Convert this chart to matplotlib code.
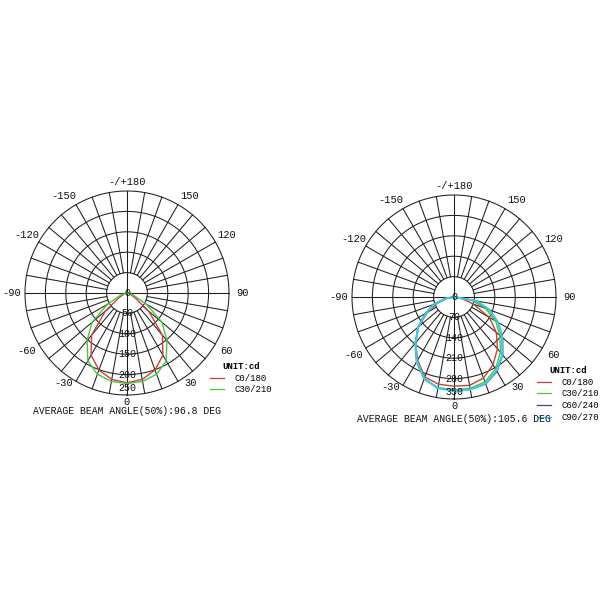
"""
Photometric polar diagrams (luminous intensity distribution) for two luminaires.
"""

import numpy as np
import matplotlib
matplotlib.use("Agg")
import matplotlib.pyplot as plt

plt.rcParams['font.family'] = ['Liberation Mono', 'DejaVu Sans Mono']

# gamma angles in degrees, 0 = straight down, positive toward the "30 / 60 / 90" side
angles = [-90, -80, -70, -60, -50, -40, -30, -20, -10, 0, 10, 20, 30, 40, 50, 60, 70, 80, 90]

# left luminaire, intensity in cd
left_c0_180 = [0, 3, 8, 22, 70, 135, 176, 201, 215, 220, 215, 201, 176, 135, 70, 22, 8, 3, 0]
left_c30_210 = [0, 5, 18, 55, 112, 152, 192, 212, 220, 222, 220, 212, 192, 152, 112, 55, 18, 5, 0]

# right luminaire, intensity in cd
right_c0_180 = [0, 22, 60, 105, 160, 205, 250, 292, 304, 306, 308, 296, 268, 232, 190, 140, 70, 25, 0]
right_c30_210 = [0, 32, 75, 115, 162, 208, 258, 300, 316, 318, 318, 310, 285, 248, 205, 165, 115, 60, 0]
right_c60_240 = [0, 30, 70, 112, 160, 205, 255, 298, 318, 320, 322, 318, 295, 260, 218, 175, 128, 75, 0]
right_c90_270 = [0, 30, 72, 110, 160, 205, 255, 298, 318, 322, 322, 316, 292, 258, 215, 175, 130, 80, 0]

left_rings = [50, 100, 150, 200, 250]
right_rings = [70, 140, 210, 280, 350]

angle_ticks = [0, 30, 60, 90, 120, 150, 180, -150, -120, -90, -60, -30]
angle_labels = ['0', '30', '60', '90', '120', '150', '-/+180', '-150', '-120', '-90', '-60', '-30']

left_title = "AVERAGE BEAM ANGLE(50%):96.8 DEG"
right_title = "AVERAGE BEAM ANGLE(50%):105.6 DEG"

GRID = '#1e1e1e'


def label_spot(a):
    """Where an angle label sits: (angle deg, radius as fraction of outer ring)."""
    if a == 0:
        return 0, 1.07
    if abs(a) == 30:
        return np.sign(a) * 35, 1.08
    if abs(a) == 180:
        return 180, 1.09
    if abs(a) == 150:
        return np.sign(a) * 147, 1.13
    return a, 1.13


def draw_diagram(ax, rings, series, title, title_y, legend_xy):
    rmax = rings[-1]
    ax.set_theta_zero_location('S')
    ax.set_theta_direction(1)
    ax.set_ylim(0, rmax)
    ax.axis('off')

    # rings
    th = np.linspace(0, 2 * np.pi, 721)
    for r in rings:
        ax.plot(th, np.full_like(th, r), color=GRID, lw=0.75, clip_on=False)

    # spokes every 10 deg, main axes go through the centre
    for a in range(0, 360, 10):
        r0 = 0 if a % 90 == 0 else rings[0]
        ax.plot([np.radians(a)] * 2, [r0, rmax], color=GRID, lw=0.75, clip_on=False)

    # angle labels
    for a, lab in zip(angle_ticks, angle_labels):
        pa, pr = label_spot(a)
        ax.text(np.radians(pa), pr * rmax, lab, ha='center', va='center',
                fontsize=7.5, color='#111111', clip_on=False)

    # intensity curves
    th_data = np.radians(angles)
    for name, vals, col, lw in series:
        ax.plot(th_data, vals, color=col, lw=lw, label=name, clip_on=False)

    # intensity labels along the 0 deg axis
    ax.text(0, 0, '0', ha='center', va='center', fontsize=7.2, color='#111111')
    for r in rings:
        rr = r if r != rmax else r * 0.93
        ax.text(0, rr, str(r), ha='center', va='center', fontsize=7.2, color='#111111')

    fig.text(ax.get_position().x0 + ax.get_position().width / 2, title_y, title,
             ha='center', va='center', fontsize=7, color='#111111')

    leg = ax.legend(loc='upper left', bbox_to_anchor=legend_xy,
                    bbox_transform=fig.transFigure, frameon=False,
                    title='UNIT:cd', fontsize=6.5, title_fontsize=6.5,
                    handlelength=1.5, handletextpad=1.2, labelspacing=0.3,
                    borderpad=0, borderaxespad=0)
    leg.get_title().set_fontweight('bold')
    for line in leg.get_lines():
        line.set_linewidth(0.9)


fig = plt.figure(figsize=(6, 6), dpi=100)

# left diagram: centre (127, 293) px, outer radius 102 px
ax1 = fig.add_axes([25 / 600, 1 - 395 / 600, 204 / 600, 204 / 600], projection='polar')
draw_diagram(ax1, left_rings,
             [('C0/180', left_c0_180, '#d03c3c', 1.0),
              ('C30/210', left_c30_210, '#3fcc3f', 1.0)],
             left_title, 1 - 411 / 600, (210 / 600, 1 - 362 / 600))

# right diagram: centre (454, 297) px
ax2 = fig.add_axes([352 / 600, 1 - 399 / 600, 204 / 600, 204 / 600], projection='polar')
draw_diagram(ax2, right_rings,
             [('C0/180', right_c0_180, '#d03c3c', 1.0),
              ('C30/210', right_c30_210, '#3fcc3f', 1.0),
              ('C60/240', right_c60_240, '#4a3f8f', 1.0),
              ('C90/270', right_c90_270, '#38cce6', 1.5)],
             right_title, 1 - 419 / 600, (537 / 600, 1 - 366 / 600))

fig.savefig('out.png', dpi=100, facecolor='white')
